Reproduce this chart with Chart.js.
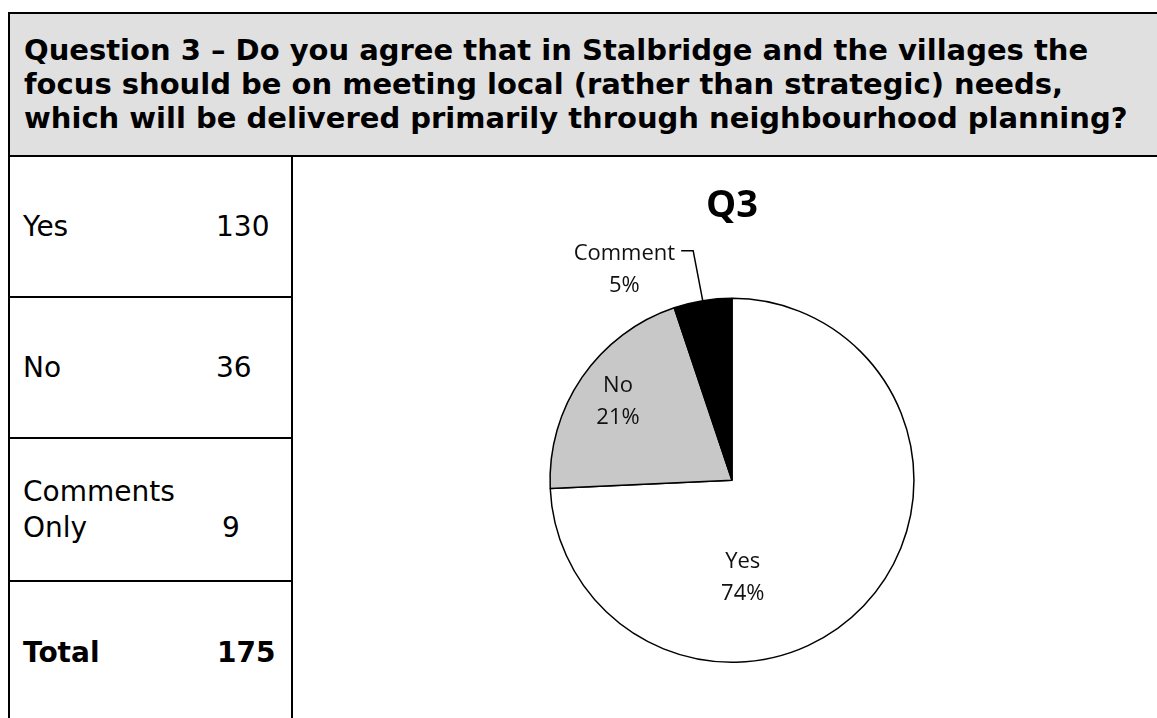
<!DOCTYPE html>
<html>
<head>
<meta charset="utf-8">
<script src="https://cdn.jsdelivr.net/npm/chart.js@4/dist/chart.umd.min.js"></script>
<style>
  html, body { margin: 0; padding: 0; background: #fff; }
  #page { position: relative; width: 1157px; height: 718px; overflow: hidden; background: #fff; }
  .hdr { position: absolute; left: 8px; top: 12px; width: 1160px; height: 141px; border: 2px solid #000; background: #e0e0e0; }
  .hdr-txt { position: absolute; left: 24px; top: 33px; font: bold 29px 'DejaVu Sans', sans-serif; line-height: 34px; color: #000; white-space: nowrap; }
  .vline { position: absolute; width: 2px; background: #000; }
  .hline { position: absolute; height: 2px; background: #000; }
  .cell { position: absolute; font: 28px 'DejaVu Sans', sans-serif; line-height: 36px; color: #000; white-space: nowrap; }
  .cell.b { font-weight: bold; }
  #pieBox { position: absolute; left: 294px; top: 157px; width: 863px; height: 561px; }
</style>
</head>
<body>
<div id="page">
  <div class="hdr"></div>
  <div class="hdr-txt">Question 3 – Do you agree that in Stalbridge and the villages the<br>focus should be on meeting local (rather than strategic) needs,<br>which will be delivered primarily through neighbourhood planning?</div>
  <div class="vline" style="left:8px; top:155px; height:563px"></div>
  <div class="vline" style="left:291px; top:155px; height:563px"></div>
  <div class="hline" style="left:8px; top:296px; width:285px"></div>
  <div class="hline" style="left:8px; top:437px; width:285px"></div>
  <div class="hline" style="left:8px; top:580px; width:285px"></div>
  <div id="rows"></div>
  <div id="pieBox"><canvas id="pie"></canvas></div>
</div>
<script>
const FONT = "'Open Sans', sans-serif";

// respuestas
const categorias = ['Yes', 'No', 'Comment'];
const respuestas = [130, 36, 9];
const filasTabla = ['Yes', 'No', 'Comments<br>Only'];
const colores = ['#ffffff', '#c8c8c8', '#000000'];
const total = respuestas.reduce((a, b) => a + b, 0);

// tabla de la izquierda: texto y posicion vertical de cada fila
const filaTop = [209, 350, 474];
const numLeft = [216, 216, 222];
const rows = document.getElementById('rows');
let html = '';
filasTabla.forEach((t, i) => {
  const numTop = i === 2 ? filaTop[i] + 36 : filaTop[i];
  html += `<div class="cell" style="left:23px; top:${filaTop[i]}px">${t}</div>`;
  html += `<div class="cell" style="left:${numLeft[i]}px; top:${numTop}px">${respuestas[i]}</div>`;
});
html += `<div class="cell b" style="left:23px; top:635px">Total</div>`;
html += `<div class="cell b" style="left:217px; top:635px">${total}</div>`;
rows.innerHTML = html;

// colocacion de etiquetas (giro respecto al centro de la porcion y distancia en radios)
const etiquetas = [
  { giro: 40, dist: 0.54 },
  { giro: 0, dist: 0.76 },
  { giro: -17.8, dist: 1.30, guia: true }
];

Chart.register({
  id: 'pieLabels',
  afterDatasetsDraw(chart) {
    const { ctx } = chart;
    const meta = chart.getDatasetMeta(0);
    const ds = chart.data.datasets[0];
    meta.data.forEach((arc, i) => {
      const v = ds.data[i];
      const pct = Math.round(v / total * 100) + '%';
      const cfg = etiquetas[i];
      const mid = (arc.startAngle + arc.endAngle) / 2;
      const a = mid + cfg.giro * Math.PI / 180;
      const r = arc.outerRadius;
      const x = arc.x + Math.cos(a) * r * cfg.dist;
      const y = arc.y + Math.sin(a) * r * cfg.dist;
      ctx.save();
      ctx.font = `22px ${FONT}`;
      ctx.fillStyle = '#111';
      ctx.textAlign = 'center';
      ctx.textBaseline = 'middle';
      ctx.fillText(chart.data.labels[i], x, y - 16);
      ctx.fillText(pct, x, y + 16);
      if (cfg.guia) {
        const w = ctx.measureText(chart.data.labels[i]).width;
        const ly = y - 19;
        const px = arc.x + Math.cos(mid) * r;
        const py = arc.y + Math.sin(mid) * r;
        ctx.strokeStyle = '#000';
        ctx.lineWidth = 1.5;
        ctx.beginPath();
        ctx.moveTo(x + w / 2 + 6, ly);
        ctx.lineTo(x + w / 2 + 18, ly);
        ctx.lineTo(px, py);
        ctx.stroke();
      }
      ctx.restore();
    });
  }
});

new Chart(document.getElementById('pie'), {
  type: 'pie',
  data: {
    labels: categorias,
    datasets: [{
      data: respuestas,
      backgroundColor: colores,
      borderColor: '#000',
      borderWidth: 1.5
    }]
  },
  options: {
    responsive: true,
    maintainAspectRatio: false,
    animation: false,
    layout: { padding: { left: 13, right: 0, top: 0, bottom: 55 } },
    plugins: {
      legend: { display: false },
      tooltip: { enabled: false },
      title: {
        display: true,
        text: 'Q3',
        color: '#000',
        font: { family: FONT, size: 38, weight: 'bold', lineHeight: 1.2 },
        padding: { top: 26, bottom: 69 }
      }
    }
  }
});
</script>
</body>
</html>
